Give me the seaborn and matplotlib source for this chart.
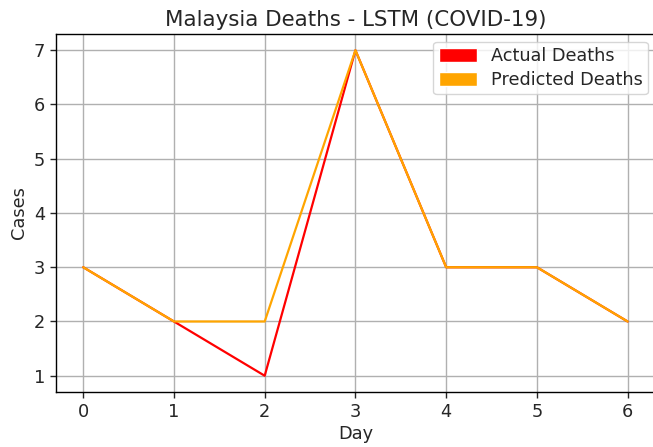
import matplotlib
matplotlib.use("Agg")
import matplotlib.pyplot as plt
from matplotlib.patches import Patch
import seaborn as sns
import pandas as pd

days = [0, 1, 2, 3, 4, 5, 6]
actual_deaths = [3, 2, 1, 7, 3, 3, 2]
predicted_deaths = [3, 2, 2, 7, 3, 3, 2]
series_names = ["Actual Deaths", "Predicted Deaths"]
series_colors = ["red", "orange"]

df = pd.DataFrame({
    "Day": days * 2,
    "Cases": actual_deaths + predicted_deaths,
    "Series": [series_names[0]] * len(days) + [series_names[1]] * len(days),
})

sns.set_style("ticks")
plt.rcParams["font.family"] = ["DejaVu Sans"]

fig = plt.figure(figsize=(6.53, 4.47), dpi=100)
ax = fig.add_axes([0.0858, 0.123, 0.917, 0.801])
sns.lineplot(data=df, x="Day", y="Cases", hue="Series",
             palette=dict(zip(series_names, series_colors)),
             linewidth=1.6, ax=ax, legend=False)
ax.grid(True, color="#b0b0b0", linewidth=1.0)
ax.set_axisbelow(True)
ax.set_xticks(days)
ax.set_yticks([1, 2, 3, 4, 5, 6, 7])
ax.tick_params(labelsize=12.8, length=4.5, width=1)
ax.set_xlabel("Day", fontsize=12.8, labelpad=3)
ax.set_ylabel("Cases", fontsize=12.8, labelpad=4)
ax.set_title("Malaysia Deaths - LSTM (COVID-19)", fontsize=15.4, pad=6)
for s in ax.spines.values():
    s.set_linewidth(1.0)
    s.set_color("black")
handles = [Patch(facecolor=c, label=n) for n, c in zip(series_names, series_colors)]
ax.legend(handles=handles, loc="upper right", fontsize=12.7, frameon=True,
          bbox_to_anchor=(0.988, 0.978), borderaxespad=0,
          labelspacing=0.33, borderpad=0.3, handlelength=2.2, handleheight=0.9,
          handletextpad=0.75)
fig.savefig("out.png", dpi=100)
